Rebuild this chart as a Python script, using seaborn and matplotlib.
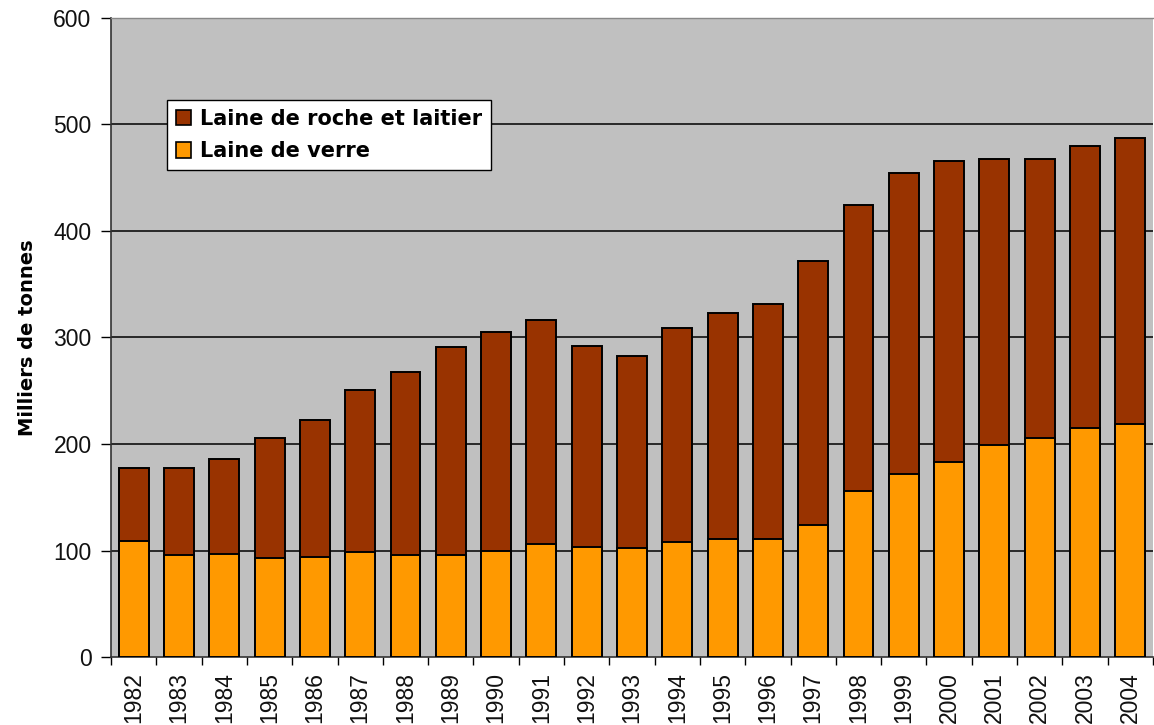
import matplotlib
matplotlib.use("Agg")
import matplotlib.pyplot as plt
import matplotlib.patches as mpatches
import seaborn as sns
import pandas as pd
import numpy as np

years = [str(y) for y in range(1982, 2005)]
laine_verre = [109, 96, 97, 93, 94, 99, 96, 96, 100, 106, 103, 102,
               108, 111, 111, 124, 156, 172, 183, 199, 206, 215, 219]
laine_roche = [68, 81, 89, 113, 129, 152, 172, 195, 205, 210, 189, 181,
               201, 212, 220, 248, 268, 282, 283, 269, 262, 265, 268]
y_ticks = [0, 100, 200, 300, 400, 500, 600]
series_names = ["Laine de roche et laitier", "Laine de verre"]
y_label = "Milliers de tonnes"

brown = "#993300"
orange = "#FF9900"
bg = "#C0C0C0"

sns.set_style("ticks")
plt.rcParams["font.family"] = ["Liberation Sans", "DejaVu Sans"]
plt.rcParams["text.color"] = "black"
plt.rcParams["axes.labelcolor"] = "black"

df = pd.DataFrame({
    "year": years,
    "verre": laine_verre,
    "roche": laine_roche,
})
df["total"] = df["verre"] + df["roche"]

fig = plt.figure(figsize=(11.54, 7.25), dpi=100)
ax = fig.add_axes([111 / 1154, (725 - 657) / 725, (1153 - 111) / 1154, (657 - 18) / 725])
ax.set_facecolor(bg)

sns.barplot(data=df, x="year", y="total", color=brown, saturation=1,
            width=0.66, edgecolor="black", linewidth=1.4, ax=ax, zorder=3)
sns.barplot(data=df, x="year", y="verre", color=orange, saturation=1,
            width=0.66, edgecolor="black", linewidth=1.4, ax=ax, zorder=4)

ax.set_xlim(-0.5, len(years) - 0.5)
ax.set_ylim(0, 600)
ax.set_yticks(y_ticks)
ax.set_yticklabels([str(v) for v in y_ticks], fontsize=16.5, color="#111111")
for v in y_ticks[1:-1]:
    ax.axhline(v, color="black", linewidth=1.1, zorder=1)

ax.set_xticks(range(len(years)))
ax.set_xticklabels(years, rotation=90, fontsize=16.5, color="#111111")
ax.tick_params(axis="x", which="major", length=0, pad=11)
ax.set_xticks(np.arange(-0.5, len(years), 1.0), minor=True)
ax.tick_params(axis="x", which="minor", length=6, width=1, color="black", direction="out")
ax.tick_params(axis="y", length=7, width=1, color="black", direction="out", pad=7)

ax.set_xlabel("")
ax.set_ylabel(y_label, fontsize=14, fontweight="bold", family="DejaVu Sans",
              color="black", labelpad=12)

for side in ["left", "bottom"]:
    ax.spines[side].set_color("#333333")
    ax.spines[side].set_linewidth(1.2)
ax.spines["top"].set_visible(True)
ax.spines["top"].set_color("#888888")
ax.spines["top"].set_linewidth(1)
ax.spines["right"].set_visible(False)

handles = [mpatches.Patch(facecolor=brown, edgecolor="black", linewidth=1.2),
           mpatches.Patch(facecolor=orange, edgecolor="black", linewidth=1.2)]
leg = fig.legend(handles, series_names, loc="upper left",
                 bbox_to_anchor=(167 / 1154, 1 - 100 / 725),
                 bbox_transform=fig.transFigure,
                 prop={"size": 15, "weight": "bold", "family": "DejaVu Sans"},
                 frameon=True, fancybox=False, framealpha=1,
                 handlelength=0.75, handleheight=0.75, handletextpad=0.42,
                 labelspacing=0.6, borderpad=0.42, borderaxespad=0)
leg.get_frame().set_edgecolor("black")
leg.get_frame().set_linewidth(1)
for t in leg.get_texts():
    t.set_color("black")

fig.savefig("out.png", dpi=100)
